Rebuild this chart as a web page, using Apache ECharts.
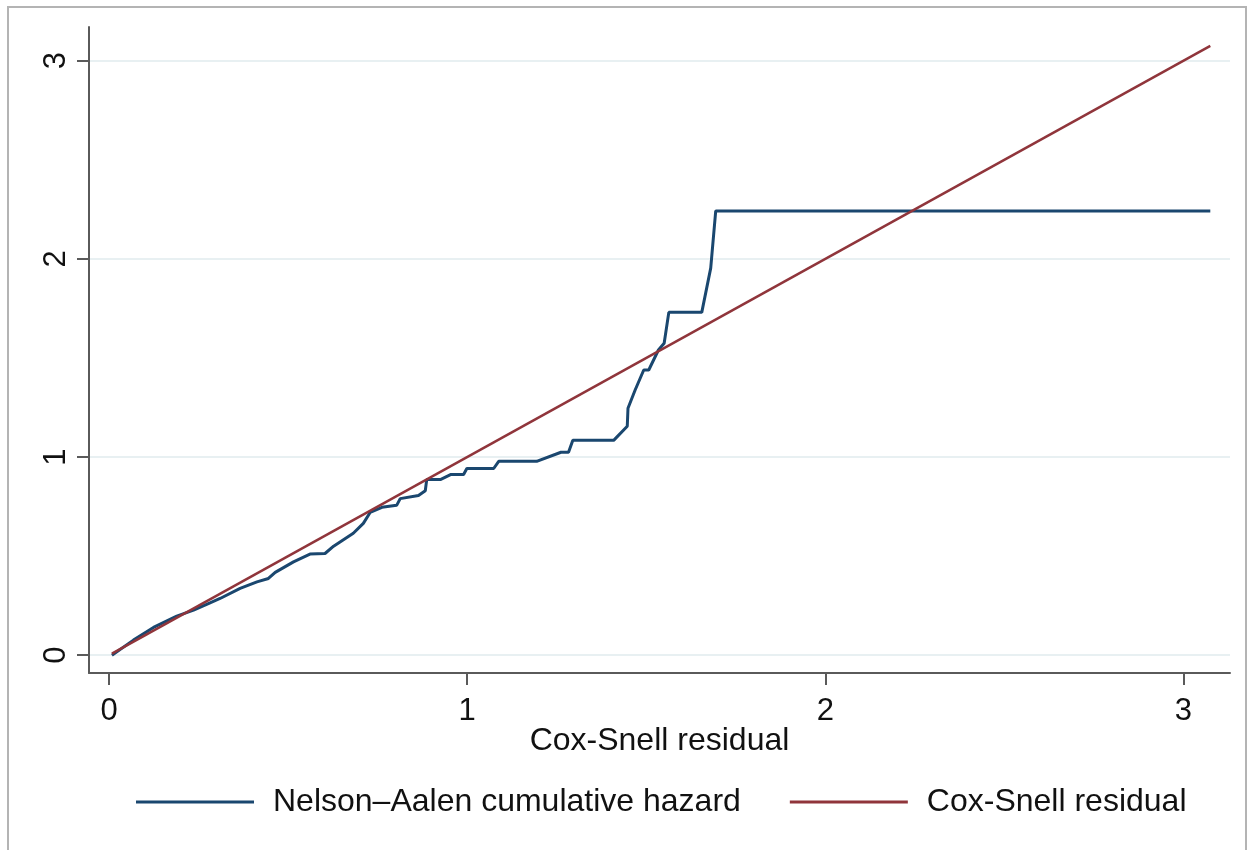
<!DOCTYPE html>
<html>
<head>
<meta charset="utf-8">
<script src="https://cdn.jsdelivr.net/npm/echarts@6/dist/echarts.min.js"></script>
<style>
  html, body { margin: 0; padding: 0; background: #fff; }
  #chart { width: 1253px; height: 850px; }
</style>
</head>
<body>
<div id="chart"></div>
<script>
// Nelson-Aalen cumulative hazard (vertices of the step curve)
const hazardX = [0.008, 0.068, 0.124, 0.189, 0.236, 0.282, 0.31, 0.366, 0.413, 0.445, 0.464, 0.515, 0.561, 0.603, 0.627, 0.682, 0.71, 0.729, 0.762, 0.803, 0.813, 0.864, 0.883, 0.887, 0.925, 0.955, 0.99, 0.999, 1.074, 1.088, 1.194, 1.262, 1.283, 1.295, 1.409, 1.447, 1.449, 1.469, 1.493, 1.507, 1.534, 1.55, 1.563, 1.655, 1.68, 1.694, 3.075]
const hazardY = [0, 0.076, 0.14, 0.197, 0.227, 0.264, 0.286, 0.337, 0.37, 0.387, 0.418, 0.471, 0.51, 0.513, 0.55, 0.615, 0.665, 0.72, 0.746, 0.756, 0.79, 0.806, 0.83, 0.886, 0.886, 0.912, 0.912, 0.942, 0.942, 0.978, 0.978, 1.024, 1.024, 1.084, 1.084, 1.155, 1.246, 1.338, 1.439, 1.439, 1.54, 1.574, 1.73, 1.73, 1.953, 2.242, 2.242]

// reference line y = x
const residX = [0.008, 3.075]
const residY = [0.008, 3.075]

const xTicks = [0, 1, 2, 3]
const yTicks = [0, 1, 2, 3]

const seriesNames = ['Nelson\u2013Aalen cumulative hazard', 'Cox-Snell residual']

const FONT = 'Liberation Sans, Arial, sans-serif'
const AXIS_COLOR = '#5a5a5a'

function zip(xs, ys) {
  return xs.map((x, i) => [x, ys[i]])
}

const myChart = echarts.init(document.getElementById('chart'))

const option = {
  animation: false,
  backgroundColor: '#fff',
  textStyle: { fontFamily: FONT },
  graphic: [{
    type: 'rect',
    shape: { x: 8, y: 7, width: 1238, height: 860 },
    style: { fill: 'none', stroke: '#b4b4b4', lineWidth: 2 },
    silent: true,
    z: -10
  }],
  grid: {
    left: 89,
    right: 23,
    top: 27,
    bottom: 177
  },
  legend: {
    data: seriesNames,
    left: 131,
    top: 781,
    icon: 'rect',
    itemWidth: 118,
    itemHeight: 3,
    itemGap: 49,
    textStyle: {
      fontFamily: FONT,
      fontSize: 32,
      color: '#111',
      padding: [0, 0, 0, 14]
    }
  },
  xAxis: {
    type: 'value',
    min: -0.056,
    max: 3.13,
    name: 'Cox-Snell residual',
    nameLocation: 'middle',
    nameGap: 52,
    nameMoveOverlap: false,
    nameTextStyle: { fontFamily: FONT, fontSize: 32, color: '#111' },
    axisLine: { show: true, onZero: false, lineStyle: { color: AXIS_COLOR, width: 2 } },
    axisTick: { show: true, length: 12, customValues: xTicks, lineStyle: { color: AXIS_COLOR, width: 2 } },
    axisLabel: { customValues: xTicks, margin: 23, fontFamily: FONT, fontSize: 31, color: '#111' },
    splitLine: { show: false }
  },
  yAxis: {
    type: 'value',
    min: -0.09,
    max: 3.17,
    axisLine: { show: true, onZero: false, lineStyle: { color: AXIS_COLOR, width: 2 } },
    axisTick: { show: true, length: 12, customValues: yTicks, lineStyle: { color: AXIS_COLOR, width: 2 } },
    axisLabel: { customValues: yTicks, rotate: 90, margin: 17, fontFamily: FONT, fontSize: 31, color: '#111' },
    splitLine: { show: true, lineStyle: { color: '#e8f0f2', width: 2 } }
  },
  series: [{
    name: seriesNames[0],
    type: 'line',
    data: zip(hazardX, hazardY),
    showSymbol: false,
    symbol: 'none',
    color: '#1a476f',
    lineStyle: { color: '#1a476f', width: 3 },
    z: 3
  }, {
    name: seriesNames[1],
    type: 'line',
    data: zip(residX, residY),
    showSymbol: false,
    symbol: 'none',
    color: '#90353b',
    lineStyle: { color: '#90353b', width: 2.5 },
    z: 4
  }]
}

myChart.setOption(option)
</script>
</body>
</html>
